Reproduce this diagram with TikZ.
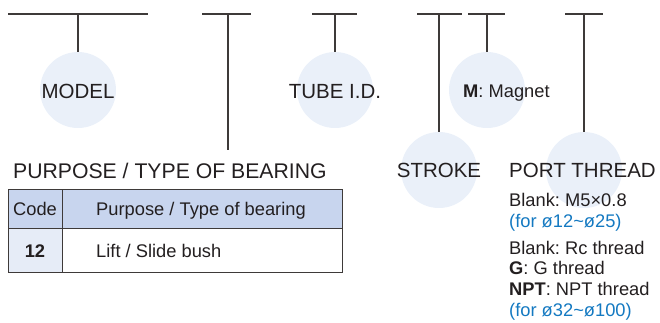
\documentclass[tikz,border=0pt]{standalone}
\usepackage{fontspec}
\setmainfont{Liberation Sans}
\frenchspacing
\definecolor{linec}{HTML}{3E3A39}
\definecolor{txt}{HTML}{231F20}
\definecolor{bubblec}{HTML}{EAF0F9}
\definecolor{headc}{HTML}{C8D5EE}
\definecolor{codec}{HTML}{E6ECF7}
\definecolor{bluec}{HTML}{1479C1}
\begin{document}
\begin{tikzpicture}[x=1pt,y=-1pt,
  bar/.style={line width=1.5pt, draw=linec},
  stem/.style={line width=1.2pt, draw=linec},
  bubble/.style={circle, fill=bubblec, minimum size=76pt, inner sep=0pt},
  big/.style={font=\fontsize{20.5}{24}\selectfont, text=txt, inner sep=0pt},
  small/.style={font=\fontsize{18.3}{22}\selectfont, text=txt, inner sep=0pt},
  blue/.style={small, text=bluec},
  cell/.style={draw=linec, line width=1.3pt, anchor=north west, inner sep=0pt}
]
\useasboundingbox (0,0) rectangle (660,322);
% bubbles
\node[bubble] (c1) at (78,90) {};
\node[bubble] (c2) at (335,90) {};
\node[bubble] (c3) at (439,170) {};
\node[bubble] (c4) at (487,90) {};
\node[bubble] (c5) at (584,170) {};
% bars
\coordinate (b1l) at (8,14);   \coordinate (b1r) at (148,14); \coordinate (b1m) at (78,14);
\coordinate (b2l) at (202,14); \coordinate (b2r) at (251,14); \coordinate (b2m) at (228,14);
\coordinate (b3l) at (312,14); \coordinate (b3r) at (357,14); \coordinate (b3m) at (335,14);
\coordinate (b4l) at (417,14); \coordinate (b4r) at (462,14); \coordinate (b4m) at (439,14);
\coordinate (b5l) at (468,14); \coordinate (b5r) at (505,14); \coordinate (b5m) at (487,14);
\coordinate (b6l) at (565,14); \coordinate (b6r) at (603,14); \coordinate (b6m) at (584,14);
\coordinate (e2) at (228,150);
\draw[bar] (b1l) -- (b1r);
\draw[bar] (b2l) -- (b2r);
\draw[bar] (b3l) -- (b3r);
\draw[bar] (b4l) -- (b4r);
\draw[bar] (b5l) -- (b5r);
\draw[bar] (b6l) -- (b6r);
\draw[stem] (b1m) -- (c1.north);
\draw[stem] (b2m) -- (e2);
\draw[stem] (b3m) -- (c2.north);
\draw[stem] (b4m) -- (c3.north);
\draw[stem] (b5m) -- (c4.north);
\draw[stem] (b6m) -- (c5.north);
% labels
\node[big, anchor=base] (tmodel) at (78,98) {MODEL};
\node[big, anchor=base] (ttube) at (335,98) {TUBE I.D.};
\node[small, anchor=base west] (tmag) at (463,97) {\textbf{M}: Magnet};
\node[big, anchor=base] (tstroke) at (439,177) {STROKE};
\node[big, anchor=base west] (tport) at (509,177) {PORT THREAD};
\node[big, font=\fontsize{21.2}{25}\selectfont, anchor=base west] (tpurp) at (13,178) {PURPOSE / TYPE OF BEARING};
% port thread list
\node[small, anchor=base west] (p1) at (509,206) {Blank: M5×0.8};
\node[blue, anchor=base west] (p2) at (509,227) {(for ø12\textasciitilde ø25)};
\node[small, anchor=base west] (p3) at (509,254) {Blank: Rc thread};
\node[small, anchor=base west] (p4) at (509,274) {\textbf{G}: G thread};
\node[small, anchor=base west] (p5) at (509,295) {\textbf{NPT}: NPT thread};
\node[blue, anchor=base west] (p6) at (509,316) {(for ø32\textasciitilde ø100)};
% table
\node[cell, fill=headc, minimum width=54pt, minimum height=39pt] (h1) at (8,189) {};
\node[cell, fill=headc, minimum width=280pt, minimum height=39pt] (h2) at (62,189) {};
\node[cell, fill=codec, minimum width=54pt, minimum height=44pt] (r1) at (8,228) {};
\node[cell, fill=white, minimum width=280pt, minimum height=44pt] (r2) at (62,228) {};
\node[small, anchor=base] (tcode) at (35,215) {Code};
\node[small, anchor=base west] (thead) at (96,215) {Purpose / Type of bearing};
\node[small, anchor=base] (t12) at (35,257) {\textbf{12}};
\node[small, anchor=base west] (tlift) at (96,257) {Lift / Slide bush};
\end{tikzpicture}
\end{document}
